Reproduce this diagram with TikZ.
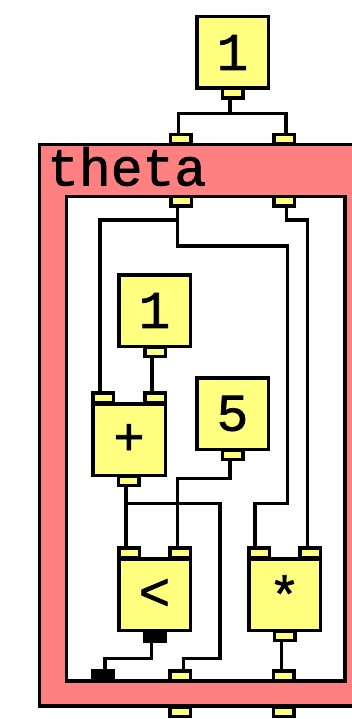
\documentclass[tikz,border=0pt]{standalone}
\usepackage{fontspec}
\newfontfamily\pdmono{Liberation Mono}[FakeBold=1.3]
\definecolor{boxfill}{RGB}{255,255,128}
\definecolor{subfill}{RGB}{255,128,128}
\tikzset{
  pdfont/.style={font=\pdmono\fontsize{53pt}{53pt}\selectfont},
  obj/.style={draw=black, fill=boxfill, line width=3.5pt, inner sep=0pt, outer sep=0pt,
    minimum width=71.5pt, minimum height=71.5pt, pdfont},
  port/.style={draw=black, fill=boxfill, line width=3.5pt, inner sep=0pt, outer sep=0pt,
    minimum width=20.5pt, minimum height=9.5pt},
  sigport/.style={port, fill=black},
  wire/.style={draw=black, line width=3.3pt},
}
\begin{document}
\begin{tikzpicture}[x=1pt, y=-1pt]
\useasboundingbox (0,0) rectangle (352,719);
\fill[white] (0,0) rectangle (352,719);

% subpatch frame and its canvas
\node[draw=black, fill=subfill, line width=3.5pt, inner sep=0pt, outer sep=0pt,
      minimum width=340pt, minimum height=561.5pt, anchor=north west] (sub) at (39.7,144.7) {};
\node[draw=black, fill=white, line width=3.5pt, inner sep=0pt, outer sep=0pt,
      minimum width=278.5pt, minimum height=484.5pt, anchor=north west] (canvas) at (66.7,196.7) {};
\node[anchor=base west, inner sep=0pt, pdfont] (title) at (47,185.5) {theta};

% outer inlets / outlets of the subpatch
\node[port] (rtL) at (180.5,139.5) {};
\node[port] (rtR) at (284,139.5) {};
\node[port] (obM) at (180,711.5) {};
\node[port] (obR) at (283.5,711.5) {};
% inlets / outlets inside the subpatch
\node[port] (tiL) at (181,201.5) {};
\node[port] (tiR) at (284.3,201.5) {};
\node[sigport] (ibL) at (102.5,675.5) {};
\node[port] (ibM) at (180,675.5) {};
\node[port] (ibR) at (283.5,675.5) {};

% message and object boxes
\node[obj] (one) at (232.5,52.5) {1};
\node[port] (oneO) at (232.5,93.5) {};

\node[obj] (oneB) at (154.5,310.5) {1};
\node[port] (oneBO) at (155,351.5) {};

\node[obj] (five) at (232.5,413.5) {5};
\node[port] (fiveO) at (232.5,454.5) {};

\node[obj, minimum width=72.5pt] (plus) at (129,439.5) {+};
\node[port] (plusL) at (103,397.5) {};
\node[port] (plusR) at (155,397.5) {};
\node[port] (plusO) at (128.5,480.5) {};

\node[obj] (lt) at (154.5,594.5) {<};
\node[port] (ltL) at (129,552.5) {};
\node[port] (ltR) at (180,552.5) {};
\node[sigport] (ltO) at (154.5,636.5) {};

\node[obj] (mul) at (284.5,594.5) {*};
\node[port] (mulL) at (259,552.5) {};
\node[port] (mulR) at (310,552.5) {};
\node[port] (mulO) at (284.5,635.5) {};

% connections
\path ([xshift=-2.5pt]oneO.south) ++(0,15.5) coordinate (split);
\draw[wire] ([xshift=-2.5pt]oneO.south) -- (split);
\draw[wire] ([xshift=-2pt]rtL.north) |- (split) -| ([xshift=2pt]rtR.north);

\draw[wire] ([xshift=-3.5pt]tiL.south) |- (100,220) -- ([xshift=-3pt]plusL.north);
\draw[wire] ([xshift=-3.5pt]tiL.south) |- (287.7,246) |- (255,503.3) -- ([xshift=-4pt]mulL.north);
\draw[wire] ([xshift=2.5pt]tiR.south) |- (307.7,220) -- ([xshift=-2.3pt]mulR.north);

\draw[wire] ([xshift=-3pt]oneBO.south) -- ([xshift=-3pt]plusR.north);
\draw[wire] ([xshift=-2.5pt]plusO.south) -- ([xshift=-3pt]ltL.north);
\draw[wire] ([xshift=-2.5pt]plusO.south) |- (220,503.3) |- (183.3,658.3) -- ([xshift=3.3pt]ibM.north);
\draw[wire] ([xshift=-2.5pt]fiveO.south) |- (177.3,478.3) -- ([xshift=-2.7pt]ltR.north);
\draw[wire] ([xshift=-3pt]ltO.south) |- (105,658.3) -- ([xshift=2.5pt]ibL.north);
\draw[wire] ([xshift=-3pt]mulO.south) -- ([xshift=-2pt]ibR.north);
\end{tikzpicture}
\end{document}
